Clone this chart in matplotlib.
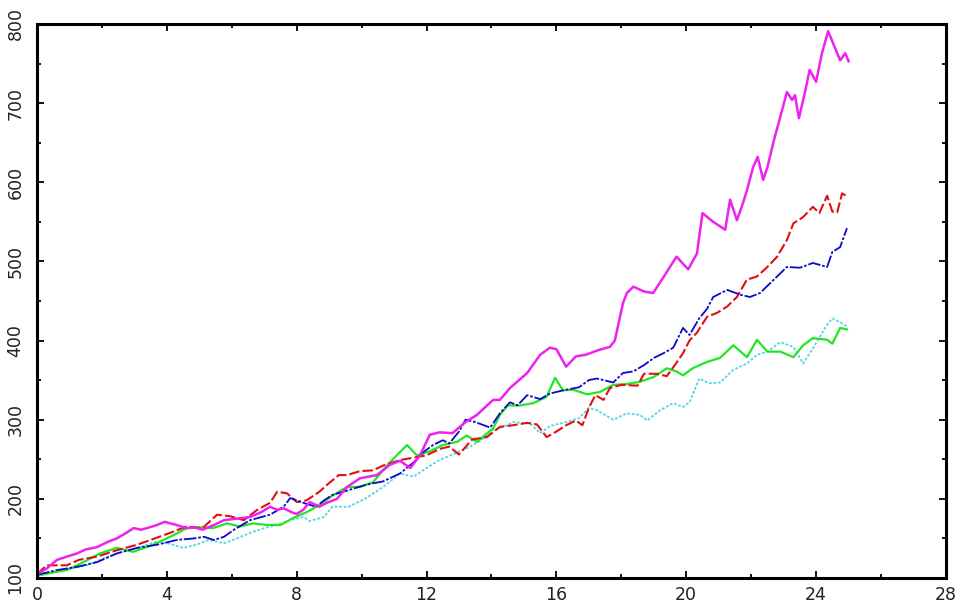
import matplotlib
matplotlib.use("Agg")
import matplotlib.pyplot as plt
from matplotlib.ticker import MultipleLocator

# ===================================================================
# Data
# ===================================================================
mag_x = [0.0, 0.3, 0.62, 1.0, 1.23, 1.5, 1.85, 2.2, 2.46, 2.75, 2.98, 3.2, 3.39, 3.7, 3.94,
         4.1, 4.3, 4.6, 4.85, 5.1, 5.4, 5.76, 6.16, 6.56, 6.9, 7.18, 7.4, 7.6, 7.9, 8.0,
         8.2, 8.4, 8.7, 8.93, 9.24, 9.55, 9.95, 10.47, 10.87, 11.18, 11.5, 11.8, 12.1, 12.4,
         12.8, 13.2, 13.55, 14.05, 14.26, 14.57, 15.1, 15.5, 15.8, 16.0, 16.3, 16.6, 16.9,
         17.3, 17.65, 17.8, 18.05, 18.17, 18.37, 18.7, 18.98, 19.25, 19.7, 20.06, 20.33,
         20.5, 20.83, 21.2, 21.35, 21.56, 21.75, 21.87, 22.06, 22.2, 22.37, 22.5, 22.7,
         22.9, 23.1, 23.26, 23.35, 23.47, 23.66, 23.8, 24.0, 24.18, 24.37, 24.52, 24.74,
         24.9, 25.0]
mag_y = [105, 112, 123, 128, 131, 136, 139, 146, 150, 157, 163, 161, 163, 167, 171,
         169, 167, 163, 164, 161, 166, 173, 175, 177, 183, 190, 186, 188, 182, 181,
         186, 196, 190, 195, 200, 215, 226, 230, 243, 248, 239, 255, 281, 284,
         283, 297, 306, 325, 325, 340, 359, 382, 391, 389, 367, 380, 382,
         388, 392, 400, 447, 460, 468, 462, 460, 477, 506, 490, 510,
         561, 550, 540, 578, 552, 574, 590, 619, 632, 603, 619, 653,
         683, 714, 704, 710, 681, 714, 742, 727, 763, 791, 776, 754,
         763, 753]

red_x = [0.0, 0.3, 0.92, 1.3, 1.85, 2.46, 3.08, 3.5, 4.1, 4.6, 5.1, 5.55, 5.95, 6.37, 6.78,
         7.18, 7.4, 7.7, 8.0, 8.3, 8.7, 9.0, 9.3, 9.55, 9.95, 10.35, 10.66, 11.18, 11.6,
         12.0, 12.4, 12.7, 13.0, 13.4, 13.86, 14.26, 14.67, 15.1, 15.4, 15.7, 16.0, 16.3,
         16.6, 16.8, 17.0, 17.2, 17.45, 17.65, 18.0, 18.5, 18.7, 19.1, 19.4, 19.7, 19.9,
         20.1, 20.33, 20.64, 20.95, 21.26, 21.56, 21.87, 22.18, 22.5, 22.8, 23.1, 23.3,
         23.6, 23.9, 24.1, 24.34, 24.5, 24.65, 24.8, 24.95]
red_y = [105, 116, 116, 123, 127, 135, 142, 148, 157, 165, 163, 180, 178, 173, 186,
         195, 209, 207, 196, 198, 209, 220, 230, 230, 235, 236, 242, 249, 252,
         255, 263, 266, 256, 275, 278, 291, 293, 296, 294, 278, 285, 293,
         299, 293, 315, 331, 325, 340, 344, 343, 358, 358, 355, 372, 384,
         400, 410, 430, 435, 443, 455, 477, 481, 493, 506, 527, 548,
         556, 569, 561, 583, 563, 562, 586, 582]

blue_x = [0.0, 0.62, 1.23, 1.85, 2.46, 3.08, 3.7, 4.3, 4.84, 5.15, 5.45, 5.76, 6.07, 6.56,
          7.18, 7.6, 7.8, 8.2, 8.6, 8.84, 9.1, 9.6, 10.15, 10.66, 11.18, 11.6, 11.9, 12.2,
          12.5, 12.7, 13.0, 13.2, 13.5, 13.96, 14.26, 14.57, 14.8, 15.1, 15.5, 15.8, 16.2,
          16.7, 17.0, 17.25, 17.75, 18.05, 18.37, 18.7, 19.0, 19.3, 19.6, 19.9, 20.1, 20.4,
          20.64, 20.83, 21.26, 21.66, 21.96, 22.27, 22.7, 23.1, 23.5, 23.9, 24.34, 24.5,
          24.74, 24.95]
blue_y = [104, 110, 114, 120, 131, 138, 142, 148, 150, 152, 148, 152, 161, 173,
          180, 190, 201, 195, 190, 198, 205, 211, 218, 222, 232, 246, 259, 268,
          274, 270, 285, 300, 297, 290, 308, 322, 318, 331, 326, 333, 337,
          341, 350, 352, 347, 359, 361, 369, 378, 384, 391, 416, 407, 428,
          440, 455, 464, 458, 455, 460, 477, 493, 492, 498, 493, 512,
          518, 542]

green_x = [0.0, 0.62, 0.92, 1.43, 1.94, 2.46, 2.96, 3.58, 4.2, 4.62, 5.02, 5.42, 5.85, 6.25,
           6.65, 7.08, 7.5, 7.9, 8.3, 8.7, 9.1, 9.55, 9.95, 10.35, 10.8, 11.18, 11.4, 11.7,
           12.1, 12.5, 12.94, 13.24, 13.55, 14.05, 14.26, 14.5, 14.88, 15.3, 15.7, 15.96,
           16.2, 16.5, 16.95, 17.34, 17.75, 18.17, 18.58, 19.0, 19.4, 19.7, 19.9, 20.2,
           20.64, 21.04, 21.45, 21.87, 22.18, 22.5, 22.9, 23.3, 23.6, 23.9, 24.34, 24.5,
           24.74, 24.95]
green_y = [103, 108, 110, 120, 131, 138, 133, 142, 154, 163, 164, 163, 169, 165,
           169, 167, 167, 176, 183, 192, 204, 215, 215, 221, 243, 259, 268, 255,
           260, 268, 272, 280, 272, 289, 306, 318, 318, 321, 329, 353,
           337, 338, 332, 335, 344, 345, 348, 354, 365, 361, 356, 365,
           373, 378, 394, 379, 401, 386, 386, 379, 394, 403, 401, 396,
           416, 414]

cyan_x = [0.0, 0.62, 1.54, 2.06, 2.46, 3.08, 3.7, 4.1, 4.5, 4.9, 5.3, 5.76, 6.16, 6.56, 7.0,
          7.4, 7.8, 8.2, 8.4, 8.84, 9.1, 9.6, 10.15, 10.66, 11.18, 11.6, 12.0, 12.4, 12.8,
          13.24, 13.65, 14.05, 14.26, 14.67, 15.2, 15.5, 15.8, 16.3, 16.7, 17.0, 17.25,
          17.75, 18.17, 18.58, 18.8, 19.2, 19.6, 19.9, 20.1, 20.4, 20.7, 21.04, 21.45,
          21.87, 22.18, 22.5, 22.9, 23.3, 23.6, 23.9, 24.34, 24.5, 24.74, 24.95]
cyan_y = [103, 108, 116, 125, 131, 138, 146, 143, 138, 142, 148, 144, 150, 157, 163,
          167, 173, 177, 172, 177, 190, 190, 201, 215, 232, 228, 239, 249, 256,
          264, 273, 287, 289, 297, 295, 283, 292, 297, 302, 315, 312,
          300, 308, 306, 299, 312, 321, 316, 322, 352, 346, 347, 363,
          371, 382, 386, 398, 392, 371, 390, 420, 428, 423, 418]

x_ticks = [0, 4, 8, 12, 16, 20, 24, 28]
y_ticks = [100, 200, 300, 400, 500, 600, 700, 800]

# ===================================================================
# Plot
# ===================================================================
fig = plt.figure(figsize=(9.63, 6.10), dpi=100)
ax = fig.add_axes([0.0384, 0.0525, 0.9439, 0.9082])

ax.plot(cyan_x, cyan_y, color="#4fd6e0", linewidth=1.3, linestyle=(0, (1.5, 1)))
ax.plot(green_x, green_y, color="#22e622", linewidth=1.6)
ax.plot(red_x, red_y, color="#e01010", linewidth=1.5, linestyle=(0, (5, 1.5)))
ax.plot(blue_x, blue_y, color="#0a0ac8", linewidth=1.3, linestyle=(0, (7, 1, 1.5, 1)))
ax.plot(mag_x, mag_y, color="#ee22ee", linewidth=1.8)

ax.set_xlim(0, 28)
ax.set_ylim(100, 800)
ax.set_xticks(x_ticks)
ax.set_yticks(y_ticks)
ax.xaxis.set_minor_locator(MultipleLocator(2))
ax.yaxis.set_minor_locator(MultipleLocator(50))

ax.tick_params(which="both", direction="in", top=True, right=True, width=1.3)
ax.tick_params(which="major", length=5, labelsize=12.5, labelcolor="#222222")
ax.tick_params(which="minor", length=3)
ax.tick_params(axis="x", pad=6)
ax.tick_params(axis="y", pad=9)
for lab in ax.get_yticklabels():
    lab.set_rotation(90)
    lab.set_va("center")

for s in ax.spines.values():
    s.set_linewidth(2.2)

fig.savefig("out.png", dpi=100)
